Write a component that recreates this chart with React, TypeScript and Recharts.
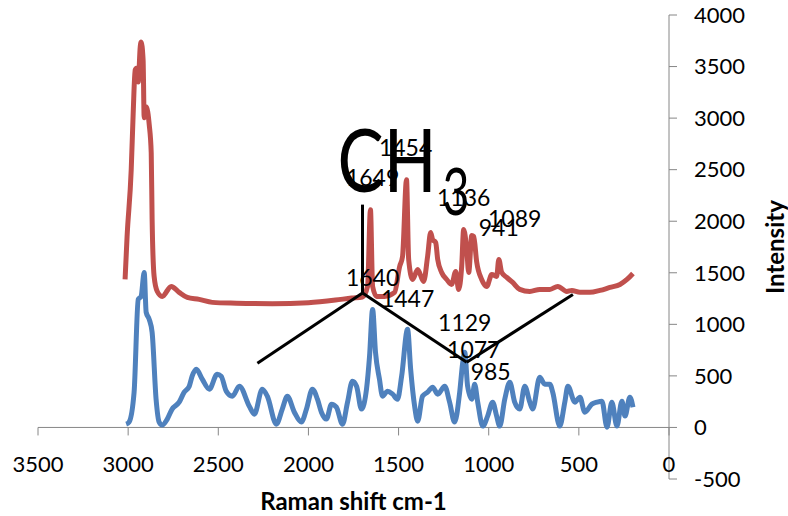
import React from 'react';
import { ComposedChart, Line, Scatter, XAxis, YAxis, ReferenceLine } from 'recharts';

// Raman spectra, [shift cm-1, intensity]
const upperSpectrum: [number, number][] = [
  [3017, 1435], [3006, 1848], [2983, 2497], [2972, 3049], [2961, 3467], [2950, 3486],
  [2944, 3350], [2933, 3690], [2928, 3738], [2917, 3564], [2911, 3003], [2900, 3110],
  [2883, 2935], [2872, 2664], [2867, 2016], [2856, 1466], [2839, 1321], [2811, 1271],
  [2761, 1368], [2717, 1310], [2672, 1261], [2606, 1242], [2533, 1213], [2400, 1205],
  [2200, 1200], [2000, 1210], [1850, 1235], [1760, 1255], [1700, 1265], [1672, 1368],
  [1656, 2112], [1644, 1368], [1622, 1271], [1578, 1271], [1522, 1310], [1494, 1561],
  [1478, 1658], [1456, 2403], [1444, 1629], [1422, 1435], [1394, 1532], [1361, 1416],
  [1339, 1658], [1322, 1890], [1311, 1822], [1294, 1793], [1283, 1629], [1261, 1503],
  [1233, 1435], [1206, 1387], [1183, 1513], [1167, 1339], [1150, 1561], [1139, 1919],
  [1122, 1726], [1111, 1503], [1094, 1861], [1083, 1851], [1067, 1609], [1039, 1435],
  [1011, 1368], [983, 1484], [956, 1464], [944, 1629], [928, 1503], [900, 1455],
  [867, 1406], [828, 1339], [772, 1319], [717, 1339], [661, 1339], [617, 1368],
  [567, 1319], [539, 1329], [494, 1310], [439, 1310], [383, 1329], [328, 1358],
  [272, 1387], [233, 1435], [200, 1493],
];

const lowerSpectrum: [number, number][] = [
  [3011, 32], [2995, 52], [2967, 342], [2944, 1242], [2928, 1271], [2911, 1503],
  [2900, 1116], [2883, 1048], [2867, 922], [2845, 274], [2828, 52], [2811, 23],
  [2783, 81], [2756, 178], [2717, 245], [2689, 342], [2661, 400], [2645, 497],
  [2622, 564], [2589, 468], [2550, 371], [2506, 516], [2484, 497], [2456, 352],
  [2422, 303], [2383, 400], [2328, 206], [2300, 129], [2256, 371], [2228, 303],
  [2178, 32], [2145, 178], [2117, 303], [2078, 148], [2039, 52], [2011, 178],
  [1978, 371], [1950, 274], [1928, 148], [1900, 81], [1872, 226], [1845, 197],
  [1811, 32], [1783, 245], [1756, 448], [1733, 400], [1706, 178], [1678, 371],
  [1661, 690], [1644, 1145], [1628, 729], [1606, 468], [1589, 303], [1561, 352],
  [1533, 323], [1506, 274], [1483, 497], [1450, 952], [1433, 564], [1411, 206],
  [1394, 61], [1367, 303], [1339, 342], [1311, 390], [1283, 323], [1244, 400],
  [1217, 245], [1189, 52], [1161, 342], [1144, 632], [1133, 729], [1117, 400],
  [1094, 274], [1078, 419], [1061, 245], [1033, 13], [1006, 110], [978, 245],
  [956, 110], [939, 13], [911, 274], [883, 439], [856, 245], [828, 178],
  [800, 400], [772, 245], [756, 178], [717, 487], [689, 419], [661, 419],
  [645, 342], [606, 13], [578, 245], [561, 400], [522, 245], [494, 294],
  [467, 148], [428, 226], [400, 245], [372, 255], [344, 3], [317, 245],
  [289, 13], [261, 255], [244, 110], [217, 294], [200, 197],
];

const shiftTicks = [3500, 3000, 2500, 2000, 1500, 1000, 500, 0];
const intensityTicks = [-500, 0, 500, 1000, 1500, 2000, 2500, 3000, 3500, 4000];

// peak annotations placed in data space
const peakLabels = [
  { shift: 1461, intensity: 2722, text: '1454' },
  { shift: 1644, intensity: 2432, text: '1649' },
  { shift: 1139, intensity: 2238, text: '1136' },
  { shift: 856, intensity: 2035, text: '1089' },
  { shift: 944, intensity: 1948, text: '941' },
  { shift: 1644, intensity: 1455, text: '1640' },
  { shift: 1450, intensity: 1252, text: '1447' },
  { shift: 1133, intensity: 1020, text: '1129' },
  { shift: 1083, intensity: 758, text: '1077' },
  { shift: 989, intensity: 545, text: '985' },
];

const groupLabel = [{ shift: 1839, intensity: 2287, text: 'CH', sub: '3' }];

const guideLines: [number, number][][] = [
  [[1700, 2161], [1700, 1303]],
  [[2283, 622], [1700, 1303]],
  [[1700, 1303], [1122, 632]],
  [[1122, 632], [533, 1290]],
];

const W = 788;
const H = 516;
const TOP = 15;
const X_AXIS_H = 37;
const PLOT_H = H - TOP - X_AXIS_H;
const ZERO_Y = TOP + (PLOT_H * 4000) / 4500;
const FONT = 'Lato, "Open Sans", sans-serif';
const AXIS = '#868686';

const toPoints = (s: [number, number][]) => s.map(([shift, intensity]) => ({ shift, intensity }));

const XTick = (props: any) => {
  const { x, payload } = props;
  return (
    <g>
      <line x1={x} x2={x} y1={ZERO_Y} y2={ZERO_Y + 8} stroke={AXIS} />
      <text x={x} y={ZERO_Y + 36} textAnchor="middle" dominantBaseline="central" fontSize={22} fontFamily={FONT} fill="#000">
        {payload.value}
      </text>
    </g>
  );
};

const PeakText = (props: any) => {
  const { cx, cy, payload } = props;
  return (
    <text x={cx} y={cy} textAnchor="middle" dominantBaseline="central" fontSize={23} fontFamily={FONT} fill="#000">
      {payload.text}
    </text>
  );
};

const GroupText = (props: any) => {
  const { cx, cy, payload } = props;
  return (
    <g fontFamily={FONT} fill="#000">
      <text x={cx} y={cy} fontSize={88} textLength={99} lengthAdjust="spacingAndGlyphs">
        {payload.text}
      </text>
      <text x={cx + 105} y={cy + 23} fontSize={65} textLength={27} lengthAdjust="spacingAndGlyphs">
        {payload.sub}
      </text>
    </g>
  );
};

export default function App() {
  return (
    <div style={{ position: 'absolute', left: 0, top: 0, width: W, height: H, background: '#fff', fontFamily: FONT }}>
      <ComposedChart width={W} height={H} margin={{ top: TOP, right: 0, bottom: 0, left: 38 }}>
        <XAxis
          dataKey="shift"
          type="number"
          domain={[0, 3500]}
          ticks={shiftTicks}
          reversed
          height={X_AXIS_H}
          axisLine={false}
          tickLine={false}
          tick={<XTick />}
          label={{ value: 'Raman shift cm-1', position: 'insideBottom', offset: 6, fill: '#000', fontSize: 24, fontWeight: 'bold', fontFamily: FONT }}
        />
        <YAxis
          type="number"
          orientation="right"
          domain={[-500, 4000]}
          ticks={intensityTicks}
          width={119}
          tickSize={8}
          tickMargin={17}
          axisLine={{ stroke: AXIS }}
          tickLine={{ stroke: AXIS }}
          tick={{ fill: '#000', fontSize: 22, fontFamily: FONT }}
          label={{ value: 'Intensity', angle: -90, position: 'center', dx: 47, fill: '#000', fontSize: 24, fontWeight: 'bold', fontFamily: FONT }}
        />
        <ReferenceLine y={0} stroke={AXIS} strokeWidth={1} />
        <Line data={toPoints(upperSpectrum)} dataKey="intensity" type="monotone" stroke="#C0504D" strokeWidth={5} dot={false} isAnimationActive={false} />
        <Line data={toPoints(lowerSpectrum)} dataKey="intensity" type="monotone" stroke="#4F81BD" strokeWidth={5} dot={false} isAnimationActive={false} />
        {guideLines.map((seg, i) => (
          <ReferenceLine
            key={i}
            segment={seg.map(([shift, intensity]) => ({ x: shift, y: intensity }))}
            stroke="#000"
            strokeWidth={3}
          />
        ))}
        <Scatter data={peakLabels} dataKey="intensity" shape={<PeakText />} isAnimationActive={false} />
        <Scatter data={groupLabel} dataKey="intensity" shape={<GroupText />} isAnimationActive={false} />
      </ComposedChart>
    </div>
  );
}
